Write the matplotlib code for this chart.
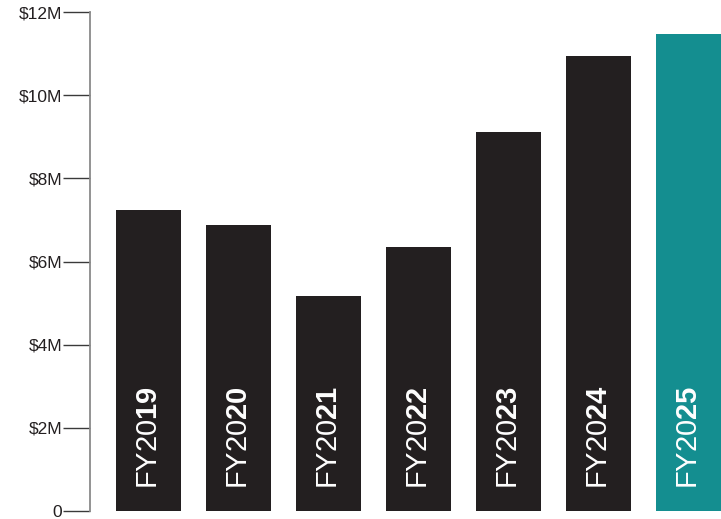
import matplotlib
matplotlib.use('Agg')
import matplotlib.pyplot as plt

plt.rcParams['font.family'] = ['Liberation Sans', 'DejaVu Sans']
plt.rcParams['mathtext.fontset'] = 'custom'
plt.rcParams['mathtext.rm'] = 'Liberation Sans'
plt.rcParams['mathtext.bf'] = 'Liberation Sans:bold'

years = ['19', '20', '21', '22', '23', '24', '25']
values = [7.24, 6.88, 5.17, 6.35, 9.11, 10.94, 11.47]  # $M
tick_vals = [0, 2, 4, 6, 8, 10, 12]
tick_labels = ['0', '$2M', '$4M', '$6M', '$8M', '$10M', '$12M']

dark = '#231f20'
teal = '#148e90'
colors = [dark] * (len(years) - 1) + [teal]

fig = plt.figure(figsize=(7.21, 5.19), dpi=100)
ax = fig.add_axes([90 / 721, 8 / 519, 631 / 721, 499 / 519])

x = list(range(len(years)))
ax.bar(x, values, width=0.722, color=colors, zorder=2)

for xi, yr in zip(x, years):
    ax.text(xi + 0.01, 0.52, 'FY20$\\mathbf{' + yr + '}$', rotation=90,
            ha='center', va='bottom', color='white', fontsize=21)

ax.set_xlim(-0.65, 6.361)
ax.set_ylim(0, 12)
ax.set_yticks(tick_vals)
ax.set_yticklabels(tick_labels, fontsize=12.5, color=dark)
ax.tick_params(axis='y', length=19.5, width=1, color='#3a3a3a', pad=0.5)
ax.set_xticks([])

for s in ['top', 'right', 'bottom']:
    ax.spines[s].set_visible(False)
ax.spines['left'].set_color('#8a8a8a')
ax.spines['left'].set_linewidth(1.3)

fig.savefig('out.png', dpi=100)
